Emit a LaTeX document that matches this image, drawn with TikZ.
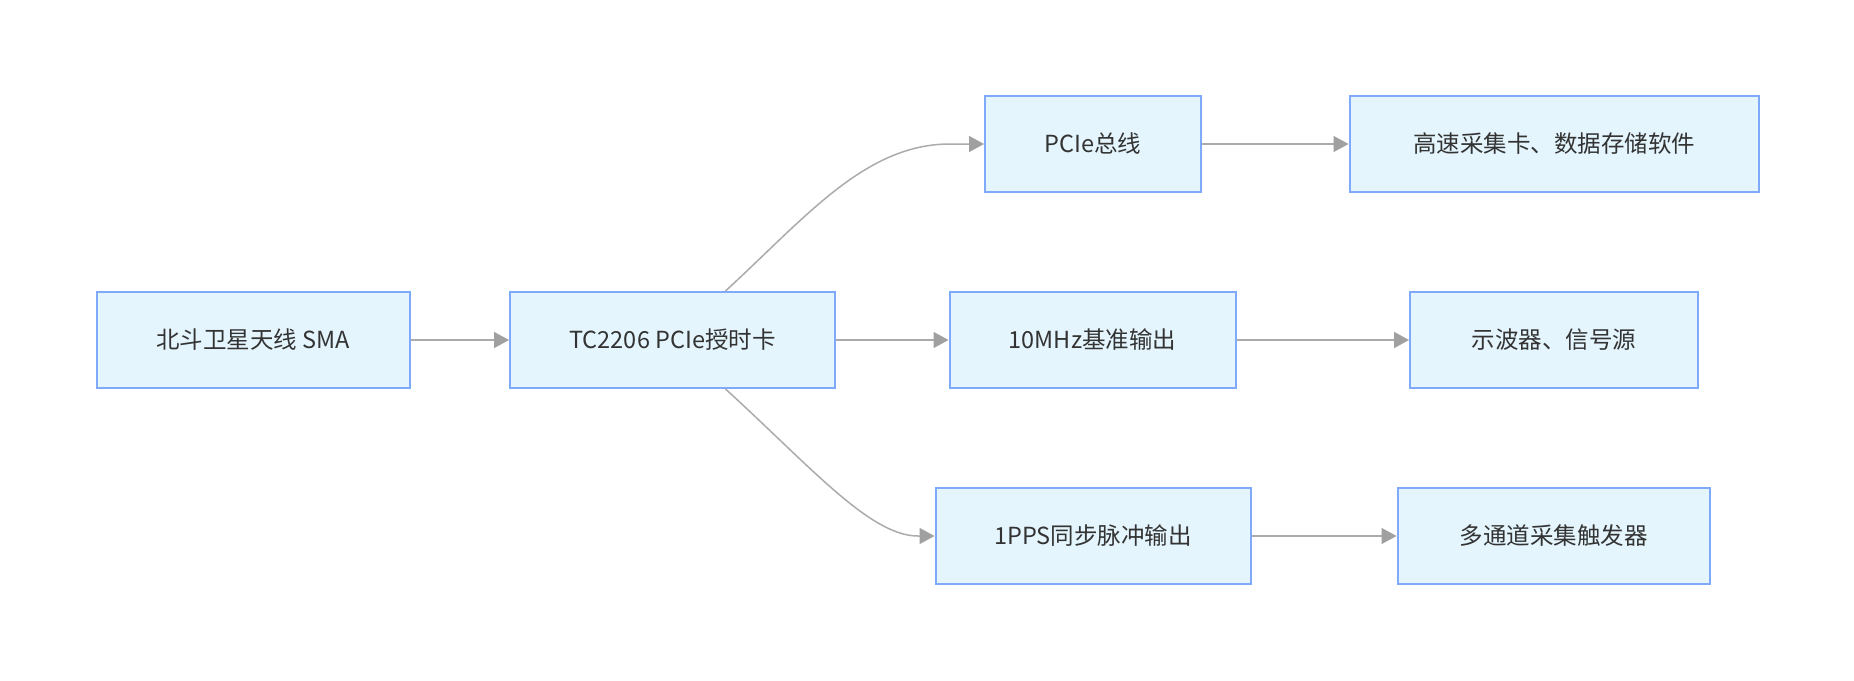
\documentclass[tikz,border=0pt]{standalone}
\usepackage{fontspec}
\setmainfont{Noto Sans CJK SC}
\usetikzlibrary{arrows.meta}
\definecolor{boxfill}{HTML}{E4F5FD}
\definecolor{boxdraw}{HTML}{7FAAF9}
\definecolor{linecol}{HTML}{ABABAB}
\definecolor{tipcol}{HTML}{A0A0A0}
\definecolor{txtcol}{HTML}{333333}
\begin{document}
\begin{tikzpicture}[x=1pt,y=-1pt,
  box/.style={draw=boxdraw, fill=boxfill, line width=2pt, minimum height=96pt,
    inner sep=0pt, text=txtcol, font=\fontsize{23.5}{27}\selectfont},
  arr/.style={draw=linecol, line width=1.5pt,
    -{Triangle[length=15pt,width=16pt,color=tipcol,fill=tipcol]}}]
\useasboundingbox (0,0) rectangle (1854,680);
\node[box, minimum width=313pt] (sma) at (253,340) {北斗卫星天线 SMA};
\node[box, minimum width=325pt] (tc) at (672.5,340) {TC2206 PCIe授时卡};
\node[box, minimum width=216pt] (pcie) at (1093,144) {PCIe总线};
\node[box, minimum width=286pt] (mhz) at (1092.5,340) {10MHz基准输出};
\node[box, minimum width=315pt] (pps) at (1093,536) {1PPS同步脉冲输出};
\node[box, minimum width=409pt] (daq) at (1554,144) {高速采集卡、数据存储软件};
\node[box, minimum width=288pt] (osc) at (1554,340) {示波器、信号源};
\node[box, minimum width=312pt] (trig) at (1553.5,536) {多通道采集触发器};
\draw[arr] (sma) -- (tc);
\draw[arr] ([xshift=53pt]tc.north) .. controls (805,218) and (865,144) .. (950,144) -- (pcie.west);
\draw[arr] (tc) -- (mhz);
\draw[arr] ([xshift=53pt]tc.south) .. controls (810,466) and (870,536) .. (918,536) -- (pps.west);
\draw[arr] (pcie) -- (daq);
\draw[arr] (mhz) -- (osc);
\draw[arr] (pps) -- (trig);
\end{tikzpicture}
\end{document}
